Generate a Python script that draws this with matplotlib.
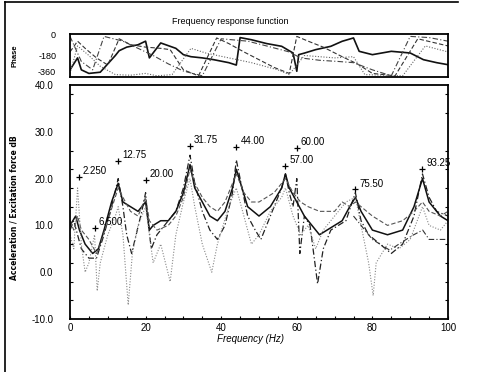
import numpy as np
import matplotlib
matplotlib.use("Agg")
import matplotlib.pyplot as plt
from matplotlib.ticker import FixedLocator

# ---------------- data ----------------
title = "Frequency response function"
xlabel = "Frequency (Hz)"
ylabel = "Acceleration / Excitation force dB"

xticks = [0, 20, 40, 60, 80, 100]
yticks = [-10, 0, 10, 20, 30, 40]
ytick_labels = ["-10.0", "0.0", "10.0", "20.0", "30.0", "40.0"]
phase_ticks = [-360, -180, 0]
phase_tick_labels = ["-360", "-180", "0"]

# magnitude curves (frequency Hz, dB)
fA = [0, 1, 2, 3, 5, 7, 9, 11, 12.75, 14, 15, 16.3, 17.5, 19, 20, 20.5, 21.5, 23, 25, 28, 30, 31.75, 33, 35, 37, 39, 41, 43, 44, 45.5, 47, 49, 50.5, 52, 54, 56, 57, 58, 59, 60, 60.8, 62, 63.5, 65.5, 67, 69, 71, 73, 75.5, 77, 79, 82, 85, 88, 91, 93.25, 95, 97, 100]
vA = [9, 11, 8, 5, 3, 3, 8, 14, 20, 14, 8, 4, 8, 13, 17, 12, 5, 8, 10, 13, 18, 25, 19, 13, 9, 7, 10, 17, 24, 18, 12, 9, 7, 10, 14, 18, 21, 17, 14, 20, 4, 12, 10, -2.5, 5, 9, 10, 11, 17, 11, 8, 6, 4, 6, 12, 21, 16, 13, 12]

fB = [0, 1.5, 2.5, 4, 6, 7.5, 9, 11, 12.75, 14, 16, 18, 20, 21, 22, 24, 26, 28, 30, 31.75, 33, 35, 37, 39, 41, 43, 44, 45.5, 47, 50, 53, 56, 57, 58, 60, 62, 64, 66, 68, 70, 72, 74, 75.5, 77, 80, 84, 88, 91, 93.25, 95, 98, 100]
vB = [10, 12, 9, 6, 4, 5, 9, 15, 19, 15, 14, 13, 15, 9, 10, 11, 11, 13, 17, 23, 18, 15, 12, 11, 13, 18, 22, 18, 14, 12, 14, 18, 21, 18, 15, 12, 10, 8, 9, 10, 11, 14, 16, 13, 9, 8, 9, 14, 20, 15, 12, 11]

fC = [0, 1, 2, 3, 5, 7, 8, 10, 12.75, 14, 16, 18, 20, 21, 23, 26, 28, 30, 31.75, 33, 35, 37, 39, 41, 43, 44, 46, 48, 50, 52, 54, 56, 57, 59, 61, 63, 66, 70, 72, 74, 75.5, 77, 80, 84, 88, 91, 93.25, 95, 98, 100]
vC = [11, 9, 12, 9, 7, 4, 6, 11, 18, 16, 13, 12, 16, 11, 9, 10, 12, 16, 22, 19, 16, 14, 13, 15, 19, 21, 17, 15, 15, 16, 17, 19, 20, 17, 15, 14, 13, 13, 15, 14, 15, 14, 12, 10, 11, 13, 15, 13, 12, 13]

fD = [0, 1, 2, 3, 4, 5, 6.5, 7.2, 8, 10, 12, 12.75, 14, 15.4, 16.5, 18, 20, 21, 22, 24, 26.5, 28, 30, 31.75, 33, 35, 37.5, 39, 42, 44, 46, 48, 50, 53, 56, 57, 59, 61, 63, 65, 67, 70, 73, 75.5, 77, 79, 80.2, 81, 84, 87, 90, 93.25, 95, 98, 100]
vD = [8, 5, 18, 6, 0, 2, 8, -4, 2, 8, 12, 14, 8, -7, 4, 10, 14, 8, 2, 6, -2, 8, 15, 20, 14, 6, 0, 6, 14, 18, 12, 6, 8, 13, 16, 18, 12, 8, 10, 5, 9, 12, 15, 16, 10, 2, -5, 2, 6, 5, 7, 14, 10, 9, 11]

fE = [75, 77, 80, 82, 84.6, 87, 90.7, 93.3, 95, 97, 100]
vE = [12, 10, 7, 6, 4.7, 6, 7.9, 9, 7, 7, 7]

# phase curves (frequency Hz, degrees)
pf1 = [0, 1, 2, 3, 5, 8, 10, 12, 13, 15, 18, 20, 21, 24, 28, 30, 32, 35, 38, 42, 44, 45, 48, 52, 56, 59, 60, 60.5, 62, 65, 69, 72, 75, 76.5, 80, 85, 90, 93.5, 97, 100]
pv1 = [-300, -250, -200, -300, -330, -320, -250, -180, -140, -110, -90, -60, -200, -75, -120, -173, -190, -200, -215, -240, -260, -30, -48, -80, -103, -159, -312, -173, -160, -131, -103, -61, -33, -145, -173, -145, -159, -215, -240, -257]
pf2 = [0, 2, 4, 7, 10, 13, 16, 20, 24, 26.5, 30, 34, 38.8, 42, 46, 50, 54, 58, 60, 63, 67, 72, 76, 80, 86, 92, 96, 100]
pv2 = [-150, -60, -120, -200, -260, -40, -89, -110, -120, -131, -300, -350, -33, -80, -150, -215, -280, -330, -20, -60, -110, -190, -250, -330, -350, -40, -70, -100]
pf3 = [0, 2, 5, 8, 12, 16, 20, 23, 27, 32, 36, 42, 48, 55, 58, 62, 66, 70, 75, 78, 83, 88, 94, 100]
pv3 = [-330, -100, -180, -270, -340, -345, -330, -350, -340, -120, -160, -200, -240, -300, -340, -180, -190, -200, -190, -340, -345, -350, -100, -150]
pf4 = [0, 3, 6, 9, 14, 18, 22, 26, 30, 35, 40, 47, 52, 58, 61, 66, 71, 75, 80, 85, 90, 95, 100]
pv4 = [-20, -230, -300, -20, -60, -120, -180, -250, -310, -350, -40, -60, -100, -150, -200, -220, -230, -240, -300, -350, -20, -30, -60]

peak_f = [2.25, 6.5, 12.75, 20.0, 31.75, 44.0, 57.0, 60.0, 75.5, 93.25]
peak_v = [20.3, 9.5, 23.8, 19.8, 27.0, 26.8, 22.7, 26.5, 17.7, 22.0]
peak_labels = ["2.250", "6.500", "12.75", "20.00", "31.75", "44.00", "57.00", "60.00", "75.50", "93.25"]

# ---------------- figure ----------------
plt.rcParams['font.family'] = ['Liberation Sans', 'DejaVu Sans']
fig = plt.figure(figsize=(4.95, 3.72), dpi=100)
fig.patch.set_facecolor('white')

W, H = 495.0, 372.0
def rect(x0, y0, x1, y1):
    return [x0 / W, 1 - y1 / H, (x1 - x0) / W, (y1 - y0) / H]

axp = fig.add_axes(rect(70, 34, 448, 77))
axm = fig.add_axes(rect(70, 85, 448, 319))

# phase panel
styles = [dict(color='#111111', lw=1.2, ls='-'),
          dict(color='#333333', lw=0.8, ls=(0, (4, 2))),
          dict(color='#666666', lw=0.8, ls=(0, (1, 1.5))),
          dict(color='#444444', lw=0.8, ls=(0, (5, 2, 1, 2)))]
for (pf, pv), st in zip([(pf1, pv1), (pf2, pv2), (pf3, pv3), (pf4, pv4)], styles):
    axp.plot(pf, pv, **st)
axp.set_xlim(0, 100)
axp.set_ylim(-360, 0)
axp.set_yticks(phase_ticks)
axp.set_yticklabels(phase_tick_labels, fontsize=6.5)
lbls = axp.get_yticklabels()
lbls[0].set_va('bottom')
axp.set_xticks([])
axp.tick_params(axis='y', length=0, pad=10)
for s in axp.spines.values():
    s.set_linewidth(1.3)
axp.set_ylabel("Phase", fontsize=5.5, fontweight='bold', labelpad=14)

# magnitude panel
axm.plot(fA, vA, color='#222222', lw=0.9, ls=(0, (5, 2, 1, 2)))
axm.plot(fB, vB, color='#111111', lw=1.1, ls='-')
axm.plot(fC, vC, color='#555555', lw=0.8, ls=(0, (4, 2)))
axm.plot(fD, vD, color='#888888', lw=0.8, ls=(0, (1, 1.5)))
axm.plot(fE, vE, color='#333333', lw=0.8, ls=(0, (5, 2, 1, 2)))

axm.plot(peak_f, peak_v, ls='none', marker='+', color='black', ms=4, mew=0.9)
for f, v, lab in zip(peak_f, peak_v, peak_labels):
    axm.annotate(lab, (f, v), xytext=(3, 2), textcoords='offset points',
                 fontsize=7, color='black')

axm.set_xlim(0, 100)
axm.set_ylim(-10, 40)
axm.set_xticks(xticks)
axm.set_xticklabels([str(t) for t in xticks], fontsize=7)
axm.set_yticks(yticks)
axm.set_yticklabels(ytick_labels, fontsize=7)
axm.xaxis.set_minor_locator(FixedLocator(np.arange(0, 101, 5)))
axm.yaxis.set_minor_locator(FixedLocator(np.arange(-10, 41, 4)))
axm.tick_params(axis='both', which='both', direction='in', top=False, right=True,
                length=2.5, width=0.8)
axm.tick_params(axis='y', which='major', length=0, pad=12)
axm.tick_params(axis='x', which='major', length=2.5, pad=3)
for s in axm.spines.values():
    s.set_linewidth(1.3)

fig.text(230 / W, 1 - 22 / H, title, fontsize=6.5, ha='center', va='center')
fig.text(250 / W, 1 - 339 / H, xlabel, fontsize=7, style='italic', ha='center', va='center')
fig.text(14 / W, 1 - 208 / H, ylabel, fontsize=5.5, fontweight='bold', rotation=90,
         ha='center', va='center', family='DejaVu Sans')

# outer frame lines
fig.add_artist(plt.Line2D([5 / W, 5 / W], [0, 1 - 2 / H], color='black', lw=1.2))
fig.add_artist(plt.Line2D([5 / W, 458 / W], [1 - 2 / H, 1 - 2 / H], color='black', lw=1.2))

fig.savefig("out.png", dpi=100, facecolor='white')
